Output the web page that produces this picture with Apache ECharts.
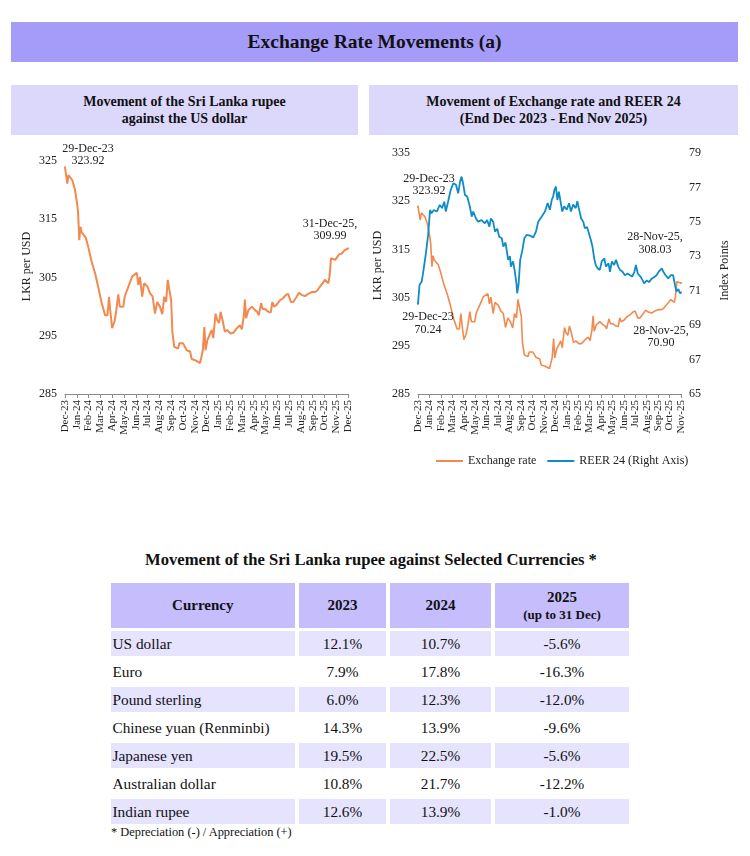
<!DOCTYPE html>
<html>
<head>
<meta charset="utf-8">
<script src="https://cdn.jsdelivr.net/npm/echarts@6/dist/echarts.min.js"></script>
<style>
  html,body{margin:0;padding:0;}
  body{width:750px;height:856px;background:#fff;position:relative;overflow:hidden;
       font-family:"Liberation Serif","Times New Roman",serif;color:#111;}
  .bar{position:absolute;display:flex;align-items:center;justify-content:center;text-align:center;font-weight:bold;}
  #mainTitle{left:11px;top:22px;width:727px;height:40px;background:#A59BF9;font-size:19.5px;}
  .sub{top:85px;height:50px;background:#DCD8FC;font-size:14px;line-height:17px;}
  #subL{left:11px;width:347px;}
  #subR{left:369px;width:369px;}
  #chart{position:absolute;left:0;top:0;width:750px;height:500px;}
  #tTitle{position:absolute;left:0;top:550px;width:742px;text-align:center;font-weight:bold;font-size:16.6px;line-height:20px;}
  #tbl{position:absolute;left:106.5px;top:580px;border-collapse:separate;border-spacing:4px 3px;table-layout:fixed;}
  #tbl th{background:#C5BDFC;height:45px;padding:0;font-size:15px;font-weight:bold;text-align:center;line-height:17px;}
  #tbl th .s{font-size:13px;}
  #tbl td{height:25px;padding:0;font-size:15.3px;text-align:center;line-height:25px;}
  #tbl td.c{text-align:left;padding-left:2px;}
  #tbl tr.odd td{background:#E5E3FE;}
  #foot{position:absolute;left:111px;top:825px;font-size:12.4px;line-height:14px;}
</style>
</head>
<body>
<div id="mainTitle" class="bar">Exchange Rate Movements (a)</div>
<div id="subL" class="bar sub">Movement of the Sri Lanka rupee<br>against the US dollar</div>
<div id="subR" class="bar sub">Movement of Exchange rate and REER 24<br>(End Dec 2023 - End Nov 2025)</div>
<div id="chart"></div>
<div id="tTitle">Movement of the Sri Lanka rupee against Selected Currencies *</div>
<table id="tbl">
  <colgroup><col style="width:184.5px"><col style="width:87px"><col style="width:101px"><col style="width:134px"></colgroup>
  <thead><tr id="hdr"></tr></thead>
  <tbody id="tbody"></tbody>
</table>
<div id="foot">* Depreciation (-) / Appreciation (+)</div>
<script>
// ---------------- DATA ----------------
const monthLabels = ['Dec-23','Jan-24','Feb-24','Mar-24','Apr-24','May-24','Jun-24','Jul-24','Aug-24','Sep-24','Oct-24','Nov-24','Dec-24',
  'Jan-25','Feb-25','Mar-25','Apr-25','May-25','Jun-25','Jul-25','Aug-25','Sep-25','Oct-25','Nov-25','Dec-25'];

const fxDates = ['2023-12-29','2024-01-04','2024-01-07','2024-01-11','2024-01-17','2024-01-24','2024-01-30','2024-02-01','2024-02-04','2024-02-07',
 '2024-02-10','2024-02-14','2024-02-21','2024-02-27','2024-03-07','2024-03-16','2024-03-24','2024-04-02','2024-04-11','2024-04-17',
 '2024-04-21','2024-04-24','2024-04-29','2024-05-05','2024-05-09','2024-05-15','2024-05-19','2024-05-28','2024-06-01','2024-06-10',
 '2024-06-20','2024-07-02','2024-07-06','2024-07-10','2024-07-16','2024-07-21','2024-07-30','2024-08-05','2024-08-12','2024-08-18',
 '2024-08-24','2024-08-31','2024-09-06','2024-09-11','2024-09-16','2024-09-20','2024-09-24','2024-09-29','2024-10-02','2024-10-07',
 '2024-10-17','2024-10-20','2024-10-30','2024-11-08','2024-11-17','2024-11-21','2024-11-30','2024-12-13','2024-12-20','2024-12-24',
 '2024-12-27','2025-01-01','2025-01-06','2025-01-12','2025-01-16','2025-01-22','2025-01-26','2025-01-31','2025-02-04','2025-02-09',
 '2025-02-15','2025-02-21','2025-03-02','2025-03-09','2025-03-18','2025-03-26','2025-03-31','2025-04-05','2025-04-08','2025-04-11',
 '2025-04-17','2025-04-26','2025-05-04','2025-05-10','2025-05-14','2025-05-20','2025-05-24','2025-05-30','2025-06-08','2025-06-14',
 '2025-06-18','2025-06-22','2025-06-29','2025-07-08','2025-07-15','2025-07-23','2025-07-29','2025-08-05','2025-08-11','2025-08-20',
 '2025-08-26','2025-09-02','2025-09-11','2025-09-19','2025-09-28','2025-10-07','2025-10-13','2025-10-19','2025-10-26','2025-11-01',
 '2025-11-06','2025-11-10','2025-11-13','2025-11-17','2025-11-21','2025-11-28','2025-12-03','2025-12-08','2025-12-15','2025-12-21',
 '2025-12-31'];
const fxValues = [323.92,321.1,322.6,322.7,321.7,320.0,317.4,316.0,311.4,313.7,
 312.8,313.1,311.8,310.3,307.7,305.7,303.4,300.6,298.5,298.5,
 301.7,299.5,296.3,297.4,298.9,302.1,300.0,300.0,301.8,303.4,
 305.2,305.8,303.7,305.1,301.7,304.0,303.4,302.3,301.7,298.8,
 300.8,300.0,298.7,301.7,300.8,304.6,304.8,301.1,295.7,293.1,
 292.8,293.7,293.7,292.5,292.3,291.0,290.8,290.3,292.5,296.5,
 292.5,294.3,294.6,296.0,294.6,298.8,297.7,297.2,299.1,297.7,
 295.7,296.0,295.4,295.5,296.3,296.8,296.1,298.3,301.2,298.0,
 299.4,300.0,299.4,299.1,298.5,300.6,299.6,299.6,299.1,299.0,
 300.8,300.0,300.3,301.1,301.4,302.0,302.2,300.8,300.8,301.7,
 302.4,302.0,301.8,302.2,302.5,302.5,302.8,303.4,304.0,304.6,
 304.8,304.0,305.1,308.3,308.0,308.03,308.3,309.0,309.1,309.6,
 309.99];

const reerDates = ['2023-12-29','2024-01-02','2024-01-08','2024-01-14','2024-01-19','2024-01-25','2024-01-30','2024-02-03','2024-02-09','2024-02-17',
 '2024-02-25','2024-03-02','2024-03-08','2024-03-12','2024-03-18','2024-03-25','2024-04-01','2024-04-08','2024-04-14','2024-04-19',
 '2024-04-23','2024-04-27','2024-05-02','2024-05-08','2024-05-15','2024-05-20','2024-05-24','2024-05-31','2024-06-06','2024-06-15',
 '2024-06-24','2024-06-30','2024-07-06','2024-07-10','2024-07-16','2024-07-21','2024-07-27','2024-08-01','2024-08-08','2024-08-12',
 '2024-08-18','2024-08-25','2024-08-30','2024-09-01','2024-09-07','2024-09-11','2024-09-16','2024-09-18','2024-09-22','2024-09-26',
 '2024-10-02','2024-10-07','2024-10-13','2024-10-22','2024-10-31','2024-11-07','2024-11-13','2024-11-22','2024-12-01','2024-12-08',
 '2024-12-14','2024-12-19','2024-12-23','2024-12-26','2024-12-30','2025-01-03','2025-01-07','2025-01-12','2025-01-16','2025-01-21',
 '2025-01-28','2025-02-03','2025-02-08','2025-02-14','2025-02-21','2025-02-25','2025-03-01','2025-03-07','2025-03-13','2025-03-17',
 '2025-03-23','2025-03-28','2025-04-02','2025-04-06','2025-04-11','2025-04-15','2025-04-20','2025-04-26','2025-05-01','2025-05-08',
 '2025-05-12','2025-05-19','2025-05-23','2025-05-28','2025-06-03','2025-06-08','2025-06-14','2025-06-19','2025-06-25','2025-07-02',
 '2025-07-09','2025-07-15','2025-07-21','2025-07-27','2025-07-31','2025-08-05','2025-08-11','2025-08-15','2025-08-22','2025-08-29',
 '2025-09-04','2025-09-11','2025-09-18','2025-09-24','2025-09-30','2025-10-08','2025-10-12','2025-10-18','2025-10-25','2025-11-01',
 '2025-11-07','2025-11-12','2025-11-16','2025-11-21','2025-11-25','2025-11-28'];
const reerValues = [70.24,71.33,71.53,72.40,73.17,74.24,75.69,75.50,75.69,75.60,
 75.98,75.80,76.17,75.60,76.17,76.85,77.24,77.15,76.66,77.34,
 77.63,77.24,76.56,76.47,75.89,75.30,75.60,75.21,75.01,75.10,
 74.92,75.10,74.72,75.20,75.00,74.43,74.60,74.14,74.05,73.56,
 73.80,72.79,73.00,72.40,72.70,72.21,71.43,70.85,71.43,72.79,
 73.37,74.05,74.24,74.20,74.10,74.43,75.01,75.30,75.60,76.10,
 75.70,76.27,76.50,76.85,77.05,76.27,76.75,76.10,75.60,75.90,
 75.70,76.08,75.60,76.00,75.80,76.20,75.80,75.21,75.00,74.63,
 74.70,74.63,73.95,73.60,72.88,72.50,72.30,72.21,72.70,72.88,
 72.40,72.60,72.10,72.70,72.50,72.79,72.40,72.20,72.11,71.90,
 72.00,71.90,71.82,72.10,72.50,72.00,71.85,71.72,71.43,71.60,
 71.50,71.70,71.80,71.90,72.11,72.30,72.10,71.90,71.72,71.90,
 71.90,71.33,70.95,71.10,70.85,70.90];

const tableHeaders = ['Currency','2023','2024','2025'];
const tableHeaderSub = '(up to 31 Dec)';
const currencies = ['US dollar','Euro','Pound sterling','Chinese yuan (Renminbi)','Japanese yen','Australian dollar','Indian rupee'];
const chg2023 = ['12.1%','7.9%','6.0%','14.3%','19.5%','10.8%','12.6%'];
const chg2024 = ['10.7%','17.8%','12.3%','13.9%','22.5%','21.7%','13.9%'];
const chg2025 = ['-5.6%','-16.3%','-12.0%','-9.6%','-5.6%','-12.2%','-1.0%'];

// ---------------- TABLE ----------------
(function(){
  const hdr = document.getElementById('hdr');
  tableHeaders.forEach((h,i)=>{
    const th = document.createElement('th');
    if (i === 3) { th.innerHTML = h + '<br><span class="s">' + tableHeaderSub + '</span>'; }
    else th.textContent = h;
    hdr.appendChild(th);
  });
  const tb = document.getElementById('tbody');
  currencies.forEach((c,i)=>{
    const tr = document.createElement('tr');
    if (i % 2 === 0) tr.className = 'odd';
    [c, chg2023[i], chg2024[i], chg2025[i]].forEach((v,j)=>{
      const td = document.createElement('td');
      if (j === 0) td.className = 'c';
      td.textContent = v;
      tr.appendChild(td);
    });
    tb.appendChild(tr);
  });
})();

// ---------------- CHART ----------------
const SERIF = 'Liberation Serif';
const ORANGE = '#F28A50';
const BLUE = '#0F8CC6';
function pos(d, start, end, n){
  const t = Date.parse(d), a = Date.parse(start), b = Date.parse(end);
  return (t - a) / (b - a) * n;
}
const labelBase = {show:true, fontFamily:SERIF, fontSize:12, color:'#222', lineHeight:12.5, align:'center'};
function mark(item, text, position, offset){
  return {value:item, symbol:'circle', symbolSize:2,
    label:Object.assign({}, labelBase, {formatter:text, position:position, offset:offset})};
}

const leftData = fxDates.map((d,i)=>[pos(d,'2023-12-29','2025-12-31',24), fxValues[i]]);
leftData[0] = mark(leftData[0], '29-Dec-23\n323.92', 'top', [23, 6]);
leftData[leftData.length-1] = mark(leftData[leftData.length-1], '31-Dec-25,\n309.99', 'top', [-18, 0]);

const rEnd = '2025-11-28';
const rightFx = [];
fxDates.forEach((d,i)=>{ if (Date.parse(d) <= Date.parse(rEnd)) rightFx.push([pos(d,'2023-12-29',rEnd,23), fxValues[i]]); });
rightFx[0] = mark(rightFx[0], '29-Dec-23\n323.92', 'top', [11, -3]);
rightFx[rightFx.length-1] = mark(rightFx[rightFx.length-1], '28-Nov-25,\n308.03', 'top', [-26, -21]);

const rightReer = reerDates.map((d,i)=>[pos(d,'2023-12-29',rEnd,23), reerValues[i]]);
rightReer[0] = mark(rightReer[0], '29-Dec-23\n70.24', 'bottom', [10, 1]);
rightReer[rightReer.length-1] = mark(rightReer[rightReer.length-1], '28-Nov-25,\n70.90', 'bottom', [-20, 26]);

const axisTxt = {fontFamily:SERIF, fontSize:12, color:'#222'};
function xAxisCfg(grid, max){
  return {gridIndex:grid, type:'value', min:0, max:max, interval:1,
    axisLine:{show:true, onZero:false, lineStyle:{color:'#8a8a8a', width:1}},
    axisTick:{show:true, length:4, lineStyle:{color:'#8a8a8a'}},
    splitLine:{show:false},
    axisLabel:Object.assign({rotate:90, margin:6, showMinLabel:true, showMaxLabel:true, hideOverlap:false,
      formatter:v=>monthLabels[Math.round(v)] || ''}, axisTxt, {fontSize:11})};
}
function yAxisCfg(grid, min, max, interval, name, position, gap, pad){
  return {gridIndex:grid, type:'value', min:min, max:max, interval:interval, position:position,
    name:name, nameLocation:'middle', nameGap:gap, nameRotate:90,
    nameTextStyle:{fontFamily:SERIF, fontSize:12, color:'#222', padding:pad},
    axisLine:{show:false}, axisTick:{show:false}, splitLine:{show:false},
    axisLabel:Object.assign({margin:8}, axisTxt)};
}

const chart = echarts.init(document.getElementById('chart'), null, {renderer:'canvas'});
chart.setOption({
  animation:false,
  backgroundColor:'transparent',
  grid:[
    {left:65, top:161, width:283, height:233},
    {left:418, top:153, width:263, height:241}
  ],
  xAxis:[xAxisCfg(0,24), xAxisCfg(1,23)],
  yAxis:[
    yAxisCfg(0, 285, 325, 10, 'LKR per USD', 'left', 32, [0,0,0,22]),
    yAxisCfg(1, 285, 335, 10, 'LKR per USD', 'left', 34, [0,0,0,16]),
    yAxisCfg(1, 65, 79, 2, 'Index Points', 'right', 38, [0,0,0,6])
  ],
  legend:{
    data:['Exchange rate','REER 24 (Right Axis)'],
    left:431, top:450, itemWidth:27, itemHeight:2, itemGap:11, icon:'rect',
    textStyle:{fontFamily:SERIF, fontSize:12, color:'#222'}
  },
  series:[
    {name:'Exchange rate (USD)', type:'line', xAxisIndex:0, yAxisIndex:0, data:leftData,
     symbol:'none', lineStyle:{color:ORANGE, width:2}, itemStyle:{color:ORANGE}},
    {name:'Exchange rate', type:'line', xAxisIndex:1, yAxisIndex:1, data:rightFx,
     symbol:'none', lineStyle:{color:ORANGE, width:1.6}, itemStyle:{color:ORANGE}},
    {name:'REER 24 (Right Axis)', type:'line', xAxisIndex:1, yAxisIndex:2, data:rightReer,
     symbol:'none', lineStyle:{color:BLUE, width:1.8}, itemStyle:{color:BLUE}}
  ]
});
</script>
</body>
</html>
